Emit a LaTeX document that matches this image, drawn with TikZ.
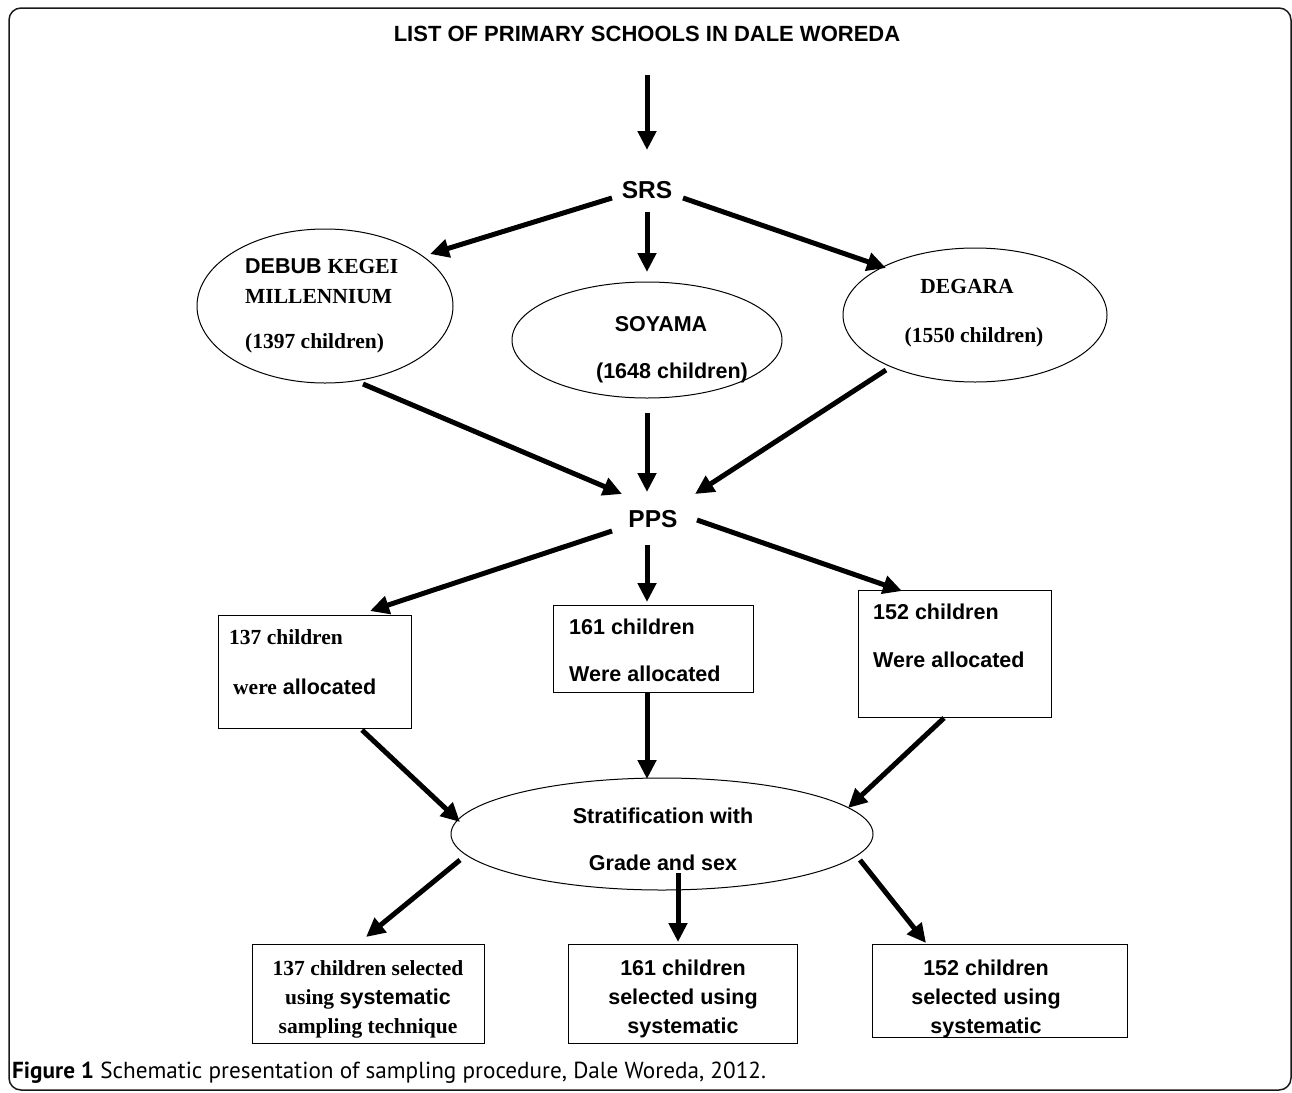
\documentclass[tikz,border=0pt]{standalone}
\usepackage{fontspec}
\setmainfont{Liberation Sans}
\newfontfamily\tmsfont{Liberation Serif}
\newfontfamily\capfont{PT Sans}
\usetikzlibrary{arrows.meta,shapes.geometric}
\begin{document}
\begin{tikzpicture}[x=1pt,y=-1pt,
  arr/.style={line width=5pt,-{Triangle[length=19pt,width=18pt]}},
  ell/.style={draw,ellipse,line width=1pt,inner sep=0},
  boxnode/.style={draw,rectangle,line width=1.2pt,inner sep=0,anchor=north west},
  lbl/.style={inner sep=0,anchor=base,font=\bfseries\fontsize{21.5}{24}\selectfont},
  lbll/.style={lbl,anchor=base west},
  big/.style={inner sep=0,anchor=base,font=\bfseries\fontsize{24.5}{28}\selectfont}]
\useasboundingbox (0,0) rectangle (1292,1092);
\draw[line width=1.5pt,black!90,rounded corners=12pt] (9,8) rectangle (1291,1090);

% title and step labels
\node[lbl,font=\bfseries\fontsize{22}{24}\selectfont] (title) at (647,41) {LIST OF PRIMARY SCHOOLS IN DALE WOREDA};
\node[big] (srs) at (647,198) {SRS};
\node[big] (pps) at (653,527) {PPS};

% first level ellipses
\node[ell,minimum width=256pt,minimum height=154pt] (e1) at (325,306) {};
\node[lbll] (e1a) at (245,273) {DEBUB {\tmsfont KEGEI}};
\node[lbll,font=\tmsfont\bfseries\fontsize{21.5}{24}\selectfont] (e1b) at (245,303) {MILLENNIUM};
\node[lbll,font=\tmsfont\bfseries\fontsize{21.5}{24}\selectfont] (e1c) at (245,348) {(1397 children)};

\node[ell,minimum width=270pt,minimum height=116pt] (e2) at (647,340) {};
\node[lbl] (e2a) at (661,331) {SOYAMA};
\node[lbl] (e2b) at (672,378) {(1648 children)};

\node[ell,minimum width=264pt,minimum height=134pt] (e3) at (975,315) {};
\node[lbl,font=\tmsfont\bfseries\fontsize{21.5}{24}\selectfont] (e3a) at (967,293) {DEGARA};
\node[lbl,font=\tmsfont\bfseries\fontsize{21.5}{24}\selectfont] (e3b) at (974,342) {(1550 children)};

% allocation boxes
\node[boxnode,minimum width=193pt,minimum height=113pt] (b1) at (218,615) {};
\node[lbll,font=\tmsfont\bfseries\fontsize{21.5}{24}\selectfont] (b1a) at (229,644) {137 children};
\node[lbll] (b1b) at (233,694) {{\tmsfont were} allocated};

\node[boxnode,minimum width=200pt,minimum height=87pt] (b2) at (553,605) {};
\node[lbll] (b2a) at (569,634) {161 children};
\node[lbll] (b2b) at (569,681) {Were allocated};

\node[boxnode,minimum width=193pt,minimum height=127pt] (b3) at (858,590) {};
\node[lbll] (b3a) at (873,619) {152 children};
\node[lbll] (b3b) at (873,667) {Were allocated};

% stratification
\node[ell,minimum width=422pt,minimum height=112pt] (st) at (662,834) {};
\node[lbl] (sta) at (663,823) {Stratification with};
\node[lbl] (stb) at (663,870) {Grade and sex};

% final boxes
\node[boxnode,minimum width=232pt,minimum height=99pt] (f1) at (252,944) {};
\node[lbl,font=\tmsfont\bfseries\fontsize{21.5}{24}\selectfont] (f1a) at (368,975) {137 children selected};
\node[lbl,font=\tmsfont\bfseries\fontsize{21.5}{24}\selectfont] (f1b) at (368,1004) {using {\rmfamily\bfseries systematic}};
\node[lbl,font=\tmsfont\bfseries\fontsize{21.5}{24}\selectfont] (f1c) at (368,1033) {sampling technique};

\node[boxnode,minimum width=229pt,minimum height=99pt] (f2) at (568,944) {};
\node[lbl] (f2a) at (683,975) {161 children};
\node[lbl] (f2b) at (683,1004) {selected using};
\node[lbl] (f2c) at (683,1033) {systematic};

\node[boxnode,minimum width=255pt,minimum height=93pt] (f3) at (872,944) {};
\node[lbl] (f3a) at (986,975) {152 children};
\node[lbl] (f3b) at (986,1004) {selected using};
\node[lbl] (f3c) at (986,1033) {systematic};

% caption
\node[inner sep=0,anchor=base west,font=\capfont\fontsize{23.2}{26}\selectfont] (cap) at (12,1078)
  {{\bfseries Figure 1} Schematic presentation of sampling procedure, Dale Woreda, 2012.};

% connector end points
\coordinate (t0) at (647,75);   \coordinate (h0) at (647,150);
\coordinate (t1) at (612,198);  \coordinate (h1) at (430,254);
\coordinate (t2) at (647,212);  \coordinate (h2) at (647,272);
\coordinate (t3) at (683,198);  \coordinate (h3) at (886,268);
\coordinate (t4) at (363,384);  \coordinate (h4) at (622,494);
\coordinate (t5) at (647,413);  \coordinate (h5) at (647,492);
\coordinate (t6) at (886,370);  \coordinate (h6) at (695,494);
\coordinate (t7) at (612,531);  \coordinate (h7) at (370,611);
\coordinate (t8) at (647,545);  \coordinate (h8) at (647,602);
\coordinate (t9) at (697,520);  \coordinate (h9) at (902,591);
\coordinate (t10) at (362,730); \coordinate (h10) at (460,822);
\coordinate (t11) at (647,692); \coordinate (h11) at (647,779);
\coordinate (t12) at (944,718); \coordinate (h12) at (848,808);
\coordinate (t13) at (460,860); \coordinate (h13) at (366,937);
\coordinate (t14) at (678,873); \coordinate (h14) at (678,942);
\coordinate (t15) at (860,860); \coordinate (h15) at (926,943);

\foreach \i in {0,...,15} {\draw[arr] (t\i) -- (h\i);}
\end{tikzpicture}
\end{document}
